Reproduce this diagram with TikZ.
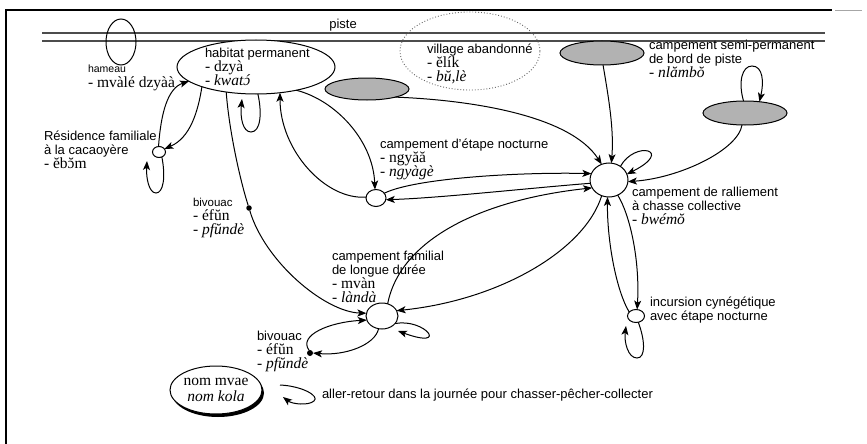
\documentclass[tikz,border=0pt]{standalone}
\usepackage{fontspec}
\setmainfont{Liberation Serif}
\setsansfont{Liberation Sans}
\usetikzlibrary{shapes.geometric,arrows.meta}
\newcommand\vern[1]{{\rmfamily\fontsize{15.5}{14}\selectfont #1}}
\newcommand\vernit[1]{{\rmfamily\itshape\fontsize{15.5}{14}\selectfont #1}}
\newcommand\nolsk{\lineskiplimit=-20pt\relax}
\newcommand\oac{\ooalign{ɔ\cr\hidewidth\kern1.5pt ´\hidewidth\cr}}
\newcommand\obr{\ooalign{ɔ\cr\hidewidth ˘\hidewidth\cr}}
\begin{document}
\begin{tikzpicture}[x=1pt,y=-1pt,
 lab/.style={anchor=north west,align=left,inner sep=0pt,outer sep=0pt,font=\sffamily\fontsize{13}{14}\selectfont\nolsk},
 site/.style={ellipse,draw,fill=white,line width=1pt,inner sep=0pt,outer sep=0pt},
 greyc/.style={ellipse,draw,fill=black!30,line width=1pt,inner sep=0pt,outer sep=0pt},
 dotn/.style={circle,fill=black,inner sep=0pt,outer sep=0pt},
 arr/.style={line width=1pt,-{Stealth[length=9pt,width=7pt,inset=2.2pt]}},
 pist/.style={line width=1.3pt,black!70},
]
\useasboundingbox (0,0) rectangle (867,444);
% frame
\draw[line width=1.4pt] (6,444) -- (6,10) -- (832,10);
\draw[line width=1pt,black!35] (835,11) -- (862,11);
% piste
\draw[pist] (42,33) -- (825,33);
\draw[pist] (42,41) -- (825,41);
\node[lab,anchor=center] (tpiste) at (343,25) {piste};

% places
\node[ellipse,draw,line width=1pt,inner sep=0pt,minimum width=30pt,minimum height=46pt] (ham) at (121,42) {};
\node[site,minimum width=158pt,minimum height=54pt] (hab) at (256,67) {};
\node[ellipse,draw=black!60,dotted,line width=0.9pt,inner sep=0pt,minimum width=140pt,minimum height=78pt] (vil) at (470,51) {};
\node[greyc,minimum width=84pt,minimum height=22pt] (g1) at (367,89) {};
\node[greyc,minimum width=84pt,minimum height=24pt] (g2) at (602,53) {};
\node[greyc,minimum width=84pt,minimum height=24pt] (g3) at (745,113) {};
\node[site,minimum width=38pt,minimum height=34pt] (ral) at (609,180) {};
\node[site,minimum width=20pt,minimum height=17pt] (eta) at (376,198) {};
\node[site,minimum width=32pt,minimum height=26pt] (fam) at (382,316) {};
\node[site,minimum width=13pt,minimum height=11pt] (res) at (159,152) {};
\node[site,minimum width=17pt,minimum height=13pt] (inc) at (636,316) {};
\node[dotn,minimum size=5.5pt] (biv1) at (249,208) {};
\node[dotn,minimum size=6pt] (biv2) at (310,353) {};

% labels
\node[lab,font=\sffamily\fontsize{10.5}{15}\selectfont\nolsk] (tham) at (88,65) {hameau\\\vern{- mvàlé dzyàà}};
\node[lab] (thab) at (205,48) {habitat permanent\\\vern{- dzyà}\\\vernit{- kwat\oac}};
\node[lab] (tvil) at (427,44) {village abandonné\\\vern{- ĕlík}\\\vernit{- bŭ,lè}};
\node[lab] (tsemi) at (649,40) {campement semi-permanent\\de bord de piste\\\vernit{- nlămbŏ}};
\node[lab] (tres) at (44,131) {Résidence familiale\\à la cacaoyère\\\vern{- ĕb\obr m}};
\node[lab] (teta) at (380,139) {campement d’étape nocturne\\\vern{- ngyăă}\\\vernit{- ngyàgè}};
\node[lab] (tral) at (632,187) {campement de ralliement\\à chasse collective\\\vernit{- bwémŏ}};
\node[lab,font=\sffamily\fontsize{11.5}{14}\selectfont\nolsk] (tbiv1) at (193,198) {bivouac\\\vern{- éfŭn}\\\vernit{- pfŭndè}};
\node[lab] (tfam) at (332,251) {campement familial\\de longue durée\\\vern{- mvàn}\\\vernit{- làndà}};
\node[lab] (tbiv2) at (257,331) {bivouac\\\vern{- éfŭn}\\\vernit{- pfŭndè}};
\node[lab] (tinc) at (650,297) {incursion cynégétique\\avec étape nocturne};

% legend
\fill (218,393) ellipse (46pt and 24pt);
\node[site,minimum width=92pt,minimum height=48pt,align=center,font=\rmfamily\fontsize{15.5}{16}\selectfont] (leg) at (216,390) {nom mvae\\\textit{nom kola}};
\coordinate (lgA) at (280,385);
\coordinate (lgB) at (283,397);
\draw[arr] (lgA) .. controls (302,386) and (320,396) .. (314,401) .. controls (308,406) and (292,404) .. (lgB);
\node[lab] (tleg) at (322,389) {aller-retour dans la journée pour chasser-pêcher-collecter};

% loop end points
\coordinate (habL) at (242,99);
\coordinate (resL) at (147,161);
\coordinate (incL) at (626,326);
\coordinate (famL) at (398,331);

% connectors
\draw[arr] (hab.200) .. controls (198,112) and (190,138) .. (res.30);
\draw[arr] (res.95) .. controls (161,112) and (168,88) .. (hab.192);
\draw[arr] (res.-60) .. controls (166,178) and (163,193) .. (156,193) .. controls (149,193) and (146,178) .. (resL);
\draw[arr] (hab.-86) .. controls (262,112) and (261,132) .. (251,132) .. controls (243,132) and (240,118) .. (habL);
\draw[arr] (hab.220) .. controls (229,130) and (240,180) .. (biv1) .. controls (265,262) and (325,312) .. (fam.170);
\draw[arr] (hab.-30) .. controls (335,100) and (373,140) .. (eta.97);
\draw[arr] (eta.175) .. controls (325,200) and (280,150) .. (hab.-47);
\draw[arr] (g1.-16) .. controls (470,100) and (570,115) .. (ral.115);
\draw[arr] (g2.-85) .. controls (609,100) and (614,130) .. (ral.82);
\draw[arr] (g3.-104) .. controls (738,150) and (680,178) .. (ral.-5);
\draw[arr] (g3.97) .. controls (738,82) and (742,66) .. (752,66) .. controls (763,66) and (764,82) .. (g3.38);
\draw[arr] (ral.50) .. controls (635,140) and (675,150) .. (ral.18);
\draw[arr] (eta.30) .. controls (415,178) and (520,172) .. (ral.160);
\draw[arr] (ral.190) .. controls (530,188) and (440,198) .. (eta.-10);
\draw[arr] (fam.65) .. controls (400,240) and (480,200) .. (ral.205);
\draw[arr] (ral.245) .. controls (585,250) and (500,300) .. (fam.20);
\draw[arr] (ral.-60) .. controls (630,215) and (640,260) .. (inc.80);
\draw[arr] (inc.150) .. controls (616,290) and (607,240) .. (ral.265);
\draw[arr] (inc.-70) .. controls (645,340) and (646,358) .. (637,358) .. controls (628,358) and (624,342) .. (incL);
\draw[arr] (fam.-30) .. controls (425,318) and (450,350) .. (famL);
\draw[arr] (biv2.110) .. controls (298,335) and (330,322) .. (fam.195);
\draw[arr] (fam.255) .. controls (375,345) and (345,356) .. (biv2.0);
\end{tikzpicture}
\end{document}
